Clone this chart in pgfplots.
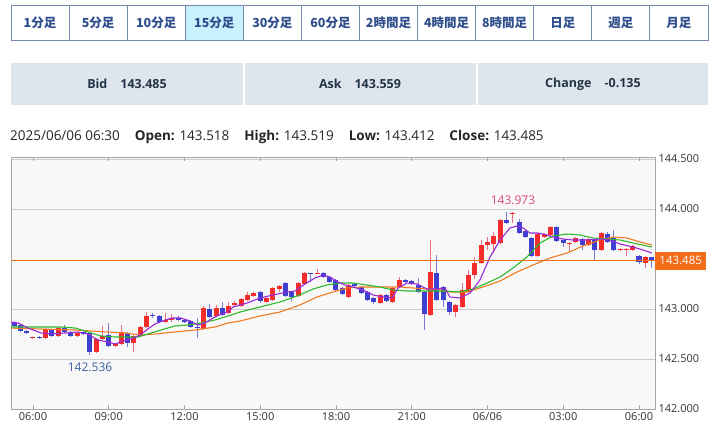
\documentclass[border=0pt]{standalone}
\usepackage{fontspec}
\setmainfont{Open Sans}
\newfontfamily\cjk{Noto Sans CJK JP}
\usepackage{pgfplots}
\usepackage{pgfplotstable}
\pgfplotsset{compat=1.18}

\definecolor{upc}{HTML}{F42C2C}
\definecolor{upw}{HTML}{E8707C}
\definecolor{dnc}{HTML}{3F3FD0}
\definecolor{dnw}{HTML}{7A7ADA}
\definecolor{ma1}{HTML}{9A2BD8}
\definecolor{ma2}{HTML}{2EB82E}
\definecolor{ma3}{HTML}{F07A1E}
\definecolor{pricec}{HTML}{E8711F}
\definecolor{boxc}{HTML}{F46B18}
\definecolor{tabtxt}{HTML}{2F4E8C}
\definecolor{tabln}{HTML}{7788B0}
\definecolor{tabsel}{HTML}{C9F0FD}
\definecolor{infobg}{HTML}{DFE5EC}
\definecolor{infotxt}{HTML}{233447}
\definecolor{gridc}{HTML}{CCCCCC}
\definecolor{framec}{HTML}{A6A6A6}
\definecolor{plotbg}{HTML}{F8F8F8}
\definecolor{hiC}{HTML}{E0457A}
\definecolor{loC}{HTML}{3E5F9C}

% 15-minute candles, x in hours after 06:00 (06/05)
% up candles (red)
\pgfplotstableread{
h O H L C
0 142.71 142.72 142.70 142.72
0.5 142.71 142.81 142.70 142.80
1.0 142.73 142.82 142.72 142.81
1.75 142.73 142.77 142.72 142.76
2.5 142.57 142.71 142.56 142.70
2.75 142.70 142.83 142.69 142.73
3.25 142.63 142.66 142.62 142.65
3.5 142.65 142.84 142.64 142.77
4.0 142.66 142.74 142.57 142.73
4.25 142.73 142.83 142.72 142.82
4.5 142.82 142.97 142.81 142.93
5.25 142.87 142.96 142.86 142.89
5.5 142.89 142.95 142.87 142.91
6.75 142.80 143.03 142.79 143.01
7.25 142.93 143.04 142.92 143.01
7.75 142.96 143.07 142.95 143.03
8.0 143.04 143.08 143.03 143.06
8.25 143.03 143.11 143.02 143.10
8.5 143.09 143.17 143.08 143.14
8.75 143.13 143.17 143.12 143.16
9.25 143.07 143.12 143.06 143.11
9.5 143.09 143.22 143.08 143.21
9.75 143.20 143.24 143.17 143.23
10.5 143.13 143.27 143.12 143.26
10.75 143.25 143.37 143.24 143.36
11.25 143.35 143.40 143.35 143.36
12.5 143.12 143.25 143.11 143.24
13.75 143.06 143.15 143.05 143.14
14.25 143.07 143.22 143.06 143.21
14.5 143.22 143.32 143.21 143.29
15.75 142.94 143.69 142.93 143.37
16.75 142.97 143.05 142.92 143.04
17.0 143.02 143.26 143.01 143.19
17.25 143.17 143.39 143.16 143.34
17.5 143.34 143.52 143.30 143.46
17.75 143.46 143.69 143.45 143.64
18.0 143.64 143.72 143.59 143.67
18.25 143.65 143.77 143.56 143.73
18.5 143.66 143.90 143.65 143.89
19.0 143.95 143.973 143.86 143.96
20.0 143.53 143.76 143.52 143.75
20.25 143.72 143.76 143.71 143.75
20.5 143.74 143.83 143.73 143.82
21.25 143.65 143.67 143.57 143.66
21.5 143.67 143.72 143.66 143.71
22.0 143.64 143.71 143.63 143.70
22.5 143.59 143.77 143.58 143.76
23.25 143.59 143.61 143.58 143.60
23.5 143.59 143.61 143.53 143.60
23.75 143.59 143.64 143.58 143.63
24.25 143.46 143.53 143.41 143.52
}\up

% down candles (blue)
\pgfplotstableread{
h O H L C
-0.75 142.87 142.88 142.82 142.83
-0.5 142.84 142.85 142.77 142.78
-0.25 142.78 142.79 142.75 142.76
0.25 142.72 142.73 142.70 142.71
0.75 142.79 142.80 142.72 142.73
1.25 142.81 142.84 142.76 142.77
1.5 142.77 142.78 142.72 142.73
2.0 142.77 142.78 142.74 142.75
2.25 142.76 142.77 142.536 142.57
3.0 142.74 142.86 142.62 142.63
3.75 142.76 142.77 142.62 142.66
4.75 142.94 142.96 142.91 142.93
5.0 142.93 142.94 142.86 142.87
5.75 142.91 142.93 142.88 142.89
6.0 142.89 142.90 142.86 142.87
6.25 142.88 142.89 142.81 142.82
6.5 142.82 142.91 142.71 142.81
7.0 143.00 143.05 142.91 142.92
7.5 143.01 143.07 142.93 142.94
9.0 143.17 143.18 143.06 143.08
10.0 143.26 143.27 143.12 143.13
10.25 143.17 143.18 143.08 143.12
11.0 143.36 143.36 143.27 143.35
11.5 143.36 143.37 143.31 143.32
11.75 143.32 143.33 143.26 143.27
12.0 143.29 143.30 143.18 143.19
12.25 143.21 143.22 143.14 143.15
12.75 143.25 143.26 143.22 143.23
13.0 143.22 143.23 143.15 143.16
13.25 143.17 143.18 143.08 143.09
13.5 143.11 143.12 143.05 143.07
14.0 143.14 143.15 143.07 143.08
14.75 143.29 143.30 143.26 143.27
15.0 143.28 143.29 143.24 143.25
15.25 143.24 143.31 143.16 143.17
15.5 143.17 143.18 142.79 142.95
16.0 143.36 143.54 143.08 143.09
16.25 143.22 143.23 143.02 143.09
16.5 143.07 143.08 142.94 142.97
18.75 143.89 143.97 143.85 143.86
19.25 143.87 143.90 143.75 143.76
19.5 143.78 143.79 143.71 143.72
19.75 143.71 143.72 143.52 143.53
20.75 143.82 143.83 143.67 143.68
21.0 143.69 143.70 143.62 143.66
21.75 143.70 143.71 143.59 143.64
22.25 143.69 143.70 143.49 143.59
22.75 143.75 143.77 143.66 143.67
23.0 143.71 143.79 143.58 143.59
24.0 143.53 143.54 143.45 143.47
24.5 143.518 143.519 143.412 143.485
}\down

\begin{document}
\begin{tikzpicture}[x=1pt,y=1pt]
\useasboundingbox (0,0) rectangle (720,-428);
\fill[white] (0,0) rectangle (720,-428);

% timeframe tabs
\foreach \t [count=\i from 0] in {1分足,5分足,10分足,15分足,30分足,60分足,2時間足,4時間足,8時間足,日足,週足,月足}{
  \pgfmathsetmacro\xa{11+\i*58.08}
  \ifnum\i=3 \fill[tabsel] (\xa,-5) rectangle ++(58.08,-35);\fi
  \draw[tabln, line width=0.8] (\xa,-5) rectangle ++(58.08,-35);
  \node[text=tabtxt, font=\cjk\bfseries\fontsize{12.5}{14}\selectfont] at (\xa+29.04,-22.5) {\t};
}

% quote boxes
\fill[infobg] (11,-63) rectangle (243,-105);
\fill[infobg] (245,-63) rectangle (476,-105);
\fill[infobg] (478,-63) rectangle (708,-105);
\node[font=\bfseries\fontsize{12.5}{14}\selectfont, text=infotxt] at (127,-84) {Bid\hspace{13pt}143.485};
\node[font=\bfseries\fontsize{12.5}{14}\selectfont, text=infotxt] at (360,-84) {Ask\hspace{13pt}143.559};
\node[font=\bfseries\fontsize{12.5}{14}\selectfont, text=infotxt] at (593,-84) {Change\hspace{13pt}-0.135};

% OHLC line
\node[anchor=west, inner sep=0, font=\fontsize{13.5}{16}\selectfont, text=black!85] at (10,-137)
  {2025/06/06 06:30\hspace{15pt}\textbf{Open:} 143.518\hspace{15pt}\textbf{High:} 143.519\hspace{15pt}\textbf{Low:} 143.412\hspace{15pt}\textbf{Close:} 143.485};

\begin{axis}[
    at={(11pt,-409pt)}, anchor=south west,
    scale only axis, width=644pt, height=252pt,
    xmin=-0.871, xmax=24.634, ymin=142, ymax=144.52,
    axis background/.style={fill=plotbg},
    axis line style={framec, line width=1pt},
    ytick={142,142.5,143,144,144.5},
    yticklabels={142.000,142.500,143.000,144.000,144.500},
    yticklabel pos=right,
    ymajorgrids, grid style={gridc, line width=0.9pt},
    xtick={0,3,...,24},
    xticklabels={06:00,09:00,12:00,15:00,18:00,21:00,06/06,03:00,06:00},
    tick align=inside, major tick length=4pt,
    xtick style={framec, line width=0.8pt},
    ytick style={draw=none},
    ticklabel style={font=\fontsize{11}{13}\selectfont, text=black!80},
    clip mode=individual,
    candle/.style={draw=none, mark=none, forget plot},
]
% wicks
\addplot[candle, error bars/.cd, y dir=both, y explicit, error mark=none,
  error bar style={draw=upw, line width=1pt}]
  table[x=h, y=C, y error plus expr=\thisrow{H}-\thisrow{C}, y error minus expr=\thisrow{C}-\thisrow{L}] {\up};
\addplot[candle, error bars/.cd, y dir=both, y explicit, error mark=none,
  error bar style={draw=dnw, line width=1pt}]
  table[x=h, y=C, y error plus expr=\thisrow{H}-\thisrow{C}, y error minus expr=\thisrow{C}-\thisrow{L}] {\down};
% bodies
\addplot[candle, error bars/.cd, y dir=plus, y explicit, error mark=none,
  error bar style={draw=upc, line width=5pt}]
  table[x=h, y=O, y error plus expr=\thisrow{C}-\thisrow{O}] {\up};
\addplot[candle, error bars/.cd, y dir=minus, y explicit, error mark=none,
  error bar style={draw=dnc, line width=5pt}]
  table[x=h, y=O, y error minus expr=\thisrow{O}-\thisrow{C}] {\down};

% moving averages
\addplot[ma3, line width=1.1pt] coordinates {
(-0.99,142.81) (0.32,142.80) (1.66,142.79) (2.30,142.78) (2.97,142.77) (3.64,142.76)
(4.28,142.74) (4.83,142.75) (5.62,142.77) (6.42,142.79) (7.21,142.82) (7.72,142.86)
(8.20,142.88) (8.99,142.93) (9.78,142.97) (10.57,143.04) (11.25,143.12) (11.88,143.17)
(12.44,143.21) (12.95,143.22) (13.47,143.22) (14.02,143.22) (14.53,143.22) (15.05,143.21)
(15.60,143.20) (16.12,143.19) (16.51,143.17) (17.19,143.17) (17.82,143.22) (18.50,143.28)
(19.17,143.37) (19.80,143.44) (20.48,143.51) (21.15,143.56) (21.78,143.63) (22.46,143.69)
(22.97,143.72) (23.52,143.71) (24.04,143.67) (24.51,143.64)
};
\addplot[ma2, line width=1.1pt] coordinates {
(-0.99,142.82) (-0.20,142.82) (0.59,142.82) (1.11,142.82) (1.66,142.81) (2.18,142.77)
(2.69,142.73) (3.25,142.72) (3.76,142.72) (4.16,142.72) (4.55,142.75) (5.07,142.79)
(5.62,142.83) (6.14,142.84) (6.65,142.86) (7.21,142.89) (7.72,142.93) (8.20,142.97)
(8.99,143.02) (9.78,143.07) (10.46,143.13) (11.09,143.20) (11.64,143.24) (12.16,143.26)
(12.67,143.26) (13.23,143.24) (13.74,143.22) (14.26,143.19) (14.81,143.18) (15.33,143.18)
(15.84,143.18) (16.32,143.18) (16.91,143.17) (17.43,143.20) (17.98,143.26) (18.50,143.32)
(19.01,143.41) (19.56,143.52) (20.08,143.66) (20.59,143.73) (21.15,143.75) (21.66,143.74)
(22.18,143.71) (22.73,143.70) (23.25,143.69) (23.76,143.66) (24.51,143.62)
};
\addplot[ma1, line width=1.1pt] coordinates {
(-0.91,142.87) (-0.59,142.86) (-0.20,142.81) (0.32,142.76) (0.71,142.75) (1.27,142.76)
(1.78,142.77) (2.18,142.75) (2.57,142.69) (2.97,142.67) (3.25,142.65) (3.56,142.68)
(3.88,142.70) (4.24,142.74) (4.55,142.80) (4.83,142.85) (5.23,142.89) (5.54,142.91)
(5.86,142.91) (6.22,142.88) (6.53,142.84) (6.81,142.86) (7.13,142.91) (7.45,142.95)
(7.72,142.97) (7.92,143.02) (8.48,143.06) (8.99,143.11) (9.50,143.14) (10.06,143.17)
(10.38,143.18) (10.77,143.25) (11.17,143.31) (11.49,143.34) (11.76,143.32) (12.08,143.27)
(12.36,143.24) (12.67,143.22) (13.07,143.19) (13.47,143.14) (13.86,143.12) (14.22,143.11)
(14.46,143.21) (14.81,143.26) (15.21,143.25) (15.60,143.20) (16.00,143.20) (16.32,143.21)
(16.51,143.12) (16.91,143.11) (17.31,143.16) (17.70,143.29) (18.10,143.52) (18.50,143.69)
(18.89,143.81) (19.17,143.83) (19.41,143.81) (19.68,143.76) (19.96,143.76) (20.20,143.75)
(20.59,143.72) (20.99,143.70) (21.39,143.69) (21.94,143.69) (22.46,143.70) (22.85,143.69)
(23.25,143.65) (23.76,143.62) (24.16,143.59) (24.51,143.56)
};

% current price
\addplot[pricec, line width=1.1pt] coordinates {(-0.871,143.485) (24.634,143.485)};
\node[fill=boxc, text=white, anchor=west, inner sep=0, minimum width=51pt, minimum height=18pt,
  font=\fontsize{11.5}{13}\selectfont] at (axis cs:24.634,143.485) {143.485};

\node[text=hiC, font=\fontsize{12}{14}\selectfont] at (axis cs:19.01,144.09) {143.973};
\node[text=loC, font=\fontsize{12}{14}\selectfont] at (axis cs:2.26,142.42) {142.536};
\end{axis}
\end{tikzpicture}
\end{document}
